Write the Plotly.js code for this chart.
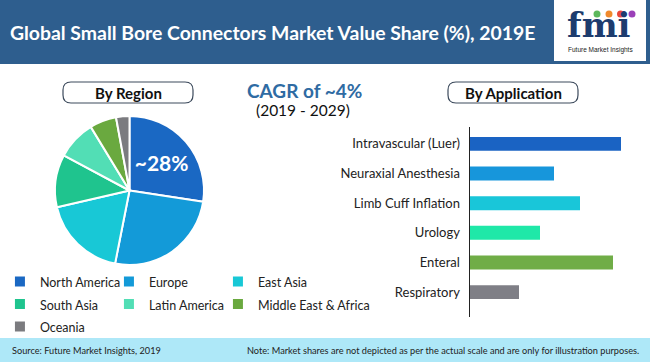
<!DOCTYPE html>
<html>
<head>
<meta charset="utf-8">
<script src="https://cdn.plot.ly/plotly-3.0.1.min.js"></script>
<style>html,body{margin:0;padding:0;background:#fff;}#chart{width:650px;height:362px;}</style>
</head>
<body>
<div id="chart"></div>
<script>
// ---- data ----
const regions = ['North America', 'Europe', 'East Asia', 'South Asia', 'Latin America', 'Middle East &amp; Africa', 'Oceania'];
const regionShare = [27.4, 25.7, 18.3, 11.4, 8.5, 5.8, 2.9];
const regionLabels = ['~28%', '', '', '', '', '', ''];
const regionColors = ['#1a68c3', '#139ad8', '#18c8d6', '#1fc48e', '#52deb5', '#6aa93f', '#7b7b7f'];

const applications = ['Intravascular (Luer)', 'Neuraxial Anesthesia', 'Limb Cuff Inflation', 'Urology', 'Enteral', 'Respiratory'];
const applicationValues = [151, 84, 110, 70, 143, 49];
const applicationColors = ['#1a63c3', '#1796db', '#19c6d9', '#1fe8a8', '#70ad47', '#7f7f86'];

const titleText = 'Global Small Bore Connectors Market Value Share (%), 2019E';
const cagrText = 'CAGR of ~4%';
const cagrPeriod = '(2019 - 2029)';
const sourceText = 'Source: Future Market Insights, 2019';
const noteText = 'Note: Market shares are not depicted as per the actual scale and are only for illustration purposes.';

// ---- helpers: pixel -> paper ----
const W = 650, H = 362;
const px = x => x / W;
const py = y => 1 - y / H;
const FONT = 'Lato, "Open Sans", sans-serif';

function roundedBox(x0, y0, x1, y1, r) {
  const X0 = px(x0), X1 = px(x1), Y0 = py(y0), Y1 = py(y1);
  const rx = r / W, ry = r / H;
  return 'M' + (X0 + rx) + ',' + Y0 + ' L' + (X1 - rx) + ',' + Y0 +
    ' Q' + X1 + ',' + Y0 + ' ' + X1 + ',' + (Y0 - ry) +
    ' L' + X1 + ',' + (Y1 + ry) + ' Q' + X1 + ',' + Y1 + ' ' + (X1 - rx) + ',' + Y1 +
    ' L' + (X0 + rx) + ',' + Y1 + ' Q' + X0 + ',' + Y1 + ' ' + X0 + ',' + (Y1 + ry) +
    ' L' + X0 + ',' + (Y0 - ry) + ' Q' + X0 + ',' + Y0 + ' ' + (X0 + rx) + ',' + Y0 + ' Z';
}

// legend text drawn a little smaller than the legend font, so rows get the reference spacing
const legendLabel = r => '<span style="font-size:12.5px">' + r + '</span>';

const pie = {
  type: 'pie',
  labels: regions.map(legendLabel),
  values: regionShare,
  text: regionLabels,
  textinfo: 'text',
  textposition: 'inside',
  insidetextorientation: 'horizontal',
  textfont: {family: FONT, size: 21, color: '#ffffff', weight: 'bold'},
  sort: false,
  direction: 'clockwise',
  rotation: 0,
  marker: {colors: regionColors, line: {color: '#ffffff', width: 2}},
  domain: {x: [px(55), px(204)], y: [py(265), py(116)]},
  hoverinfo: 'percent',
  showlegend: true
};

const bar = {
  type: 'bar',
  orientation: 'h',
  y: applications,
  x: applicationValues,
  marker: {color: applicationColors},
  width: 0.47,
  showlegend: false,
  hoverinfo: 'y+x'
};

const layout = {
  width: W, height: H,
  margin: {l: 0, r: 0, t: 0, b: 0, pad: 0, autoexpand: false},
  paper_bgcolor: '#ffffff',
  plot_bgcolor: 'rgba(0,0,0,0)',
  font: {family: FONT, color: '#222222'},
  showlegend: true,
  legend: {
    orientation: 'h',
    x: -0.0001, xanchor: 'left',
    y: py(260), yanchor: 'top',
    bgcolor: 'rgba(0,0,0,0)',
    font: {family: FONT, size: 15, color: '#222222'},
    entrywidth: 64, entrywidthmode: 'pixels',
    traceorder: 'normal',
    title: {text: '\u00a0'.repeat(380), side: 'top', font: {size: 4}}
  },
  xaxis: {
    domain: [px(470), px(640)],
    range: [0, 170],
    visible: false,
    fixedrange: true
  },
  yaxis: {
    domain: [py(317), py(127)],
    range: [5.84, -0.57],
    type: 'category',
    showline: true, linecolor: '#222222', linewidth: 1.5,
    showgrid: false, zeroline: false,
    ticks: '',
    ticklabelstandoff: 6,
    tickfont: {family: FONT, size: 13, color: '#222222'},
    fixedrange: true
  },
  shapes: [
    {type: 'rect', xref: 'paper', yref: 'paper', x0: 0, x1: 1, y0: py(64), y1: 1, fillcolor: '#2e5e8e', line: {width: 0}, layer: 'below'},
    {type: 'rect', xref: 'paper', yref: 'paper', x0: px(554), x1: px(646), y0: py(61), y1: 1, fillcolor: '#ffffff', line: {width: 0}, layer: 'below'},
    {type: 'rect', xref: 'paper', yref: 'paper', x0: 0, x1: 1, y0: 0, y1: py(338), fillcolor: '#aee8f8', line: {width: 0}, layer: 'below'},
    {type: 'path', xref: 'paper', yref: 'paper', path: roundedBox(63, 82, 193, 103, 8), line: {color: '#3c4a5c', width: 1.2}, fillcolor: 'rgba(0,0,0,0)'},
    {type: 'path', xref: 'paper', yref: 'paper', path: roundedBox(448, 82, 578, 103, 8), line: {color: '#3c4a5c', width: 1.2}, fillcolor: 'rgba(0,0,0,0)'},
    {type: 'circle', xref: 'paper', yref: 'paper', x0: px(593.5), x1: px(600.5), y0: py(17.5), y1: py(10.5), fillcolor: '#5cb85c', line: {width: 0}},
    {type: 'circle', xref: 'paper', yref: 'paper', x0: px(605.5), x1: px(612.5), y0: py(17.5), y1: py(10.5), fillcolor: '#f08a2c', line: {width: 0}},
    {type: 'circle', xref: 'paper', yref: 'paper', x0: px(617), x1: px(624), y0: py(17.5), y1: py(10.5), fillcolor: '#e8473a', line: {width: 0}},
    {type: 'circle', xref: 'paper', yref: 'paper', x0: px(628.5), x1: px(635.5), y0: py(17.5), y1: py(10.5), fillcolor: '#9b40b8', line: {width: 0}}
  ],
  annotations: [
    {text: '<b>' + titleText + '</b>', xref: 'paper', yref: 'paper', x: px(8), y: py(32), xanchor: 'left', yanchor: 'middle', showarrow: false,
     font: {family: FONT, size: 19.4, color: '#ffffff'}},
    {text: '<b>fmi</b>', xref: 'paper', yref: 'paper', x: px(599), y: py(25), xanchor: 'center', yanchor: 'middle', showarrow: false,
     font: {family: '"DejaVu Serif", serif', size: 34, color: '#1d3c6e'}},
    {text: 'Future Market Insights', xref: 'paper', yref: 'paper', x: px(600), y: py(50), xanchor: 'center', yanchor: 'middle', showarrow: false,
     font: {family: '"Liberation Sans", Arial, sans-serif', size: 6.5, color: '#222222'}},
    {text: '<b>By Region</b>', xref: 'paper', yref: 'paper', x: px(128), y: py(92.5), xanchor: 'center', yanchor: 'middle', showarrow: false,
     font: {family: FONT, size: 15, color: '#111111'}},
    {text: '<b>By Application</b>', xref: 'paper', yref: 'paper', x: px(513), y: py(92.5), xanchor: 'center', yanchor: 'middle', showarrow: false,
     font: {family: FONT, size: 15, color: '#111111'}},
    {text: '<b>' + cagrText + '</b>', xref: 'paper', yref: 'paper', x: px(304), y: py(90), xanchor: 'center', yanchor: 'middle', showarrow: false,
     font: {family: FONT, size: 19, color: '#2f6ba3'}},
    {text: cagrPeriod, xref: 'paper', yref: 'paper', x: px(303), y: py(110), xanchor: 'center', yanchor: 'middle', showarrow: false,
     font: {family: FONT, size: 15.5, color: '#111111'}},
    {text: sourceText, xref: 'paper', yref: 'paper', x: px(10), y: py(350.5), xanchor: 'left', yanchor: 'middle', showarrow: false,
     font: {family: FONT, size: 9.2, color: '#222222'}},
    {text: noteText, xref: 'paper', yref: 'paper', x: px(641), y: py(350.5), xanchor: 'right', yanchor: 'middle', showarrow: false,
     font: {family: FONT, size: 9.2, color: '#222222'}}
  ]
};

Plotly.newPlot('chart', [pie, bar], layout, {displayModeBar: false, staticPlot: true});
</script>
</body>
</html>
